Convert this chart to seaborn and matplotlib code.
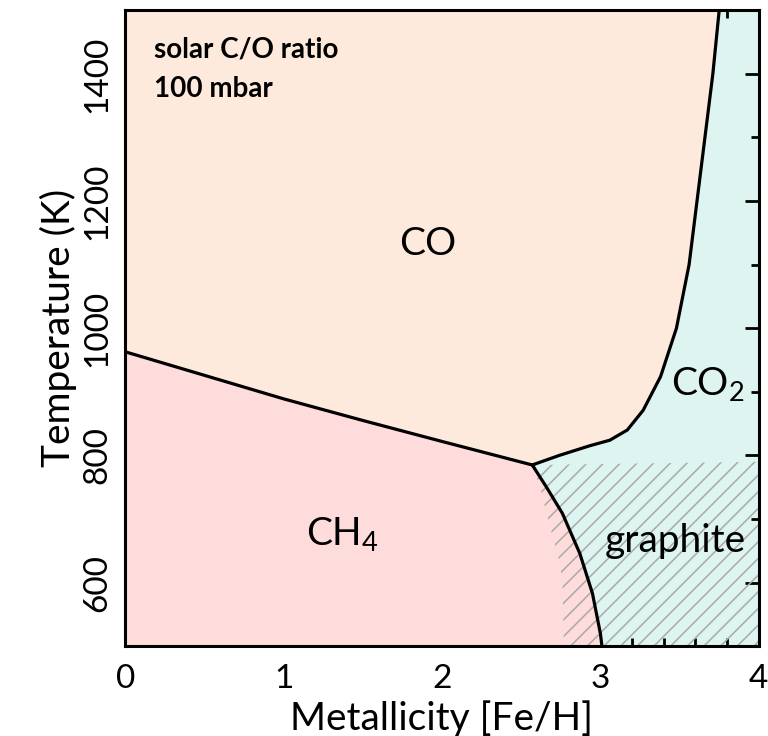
"""Chemical-equilibrium phase diagram: dominant carbon carrier vs metallicity and T."""
import matplotlib
matplotlib.use("Agg")
import matplotlib.pyplot as plt
import pandas as pd
import seaborn as sns
from matplotlib.ticker import MultipleLocator

# boundary CO / CH4  (metallicity, temperature K)
co_ch4_feh = [0.0, 0.5, 1.0, 1.5, 2.0, 2.57]
co_ch4_t = [963, 926, 889, 855, 822, 785]

# boundary CO / CO2
co_co2_feh = [2.57, 2.74, 2.93, 3.06, 3.17, 3.27, 3.38, 3.48, 3.56, 3.61, 3.66, 3.71, 3.75]
co_co2_t = [785, 800, 815, 824, 840, 871, 924, 1000, 1100, 1200, 1300, 1400, 1500]

# boundary CH4 / graphite
ch4_gr_feh = [2.57, 2.66, 2.76, 2.87, 2.95, 3.00, 3.01]
ch4_gr_t = [785, 750, 709, 646, 583, 520, 500]

# left edge of the graphite-stability (hatched) zone
gr_edge_feh = [2.57, 2.62, 2.66, 2.70, 2.74, 2.76, 2.77]
gr_edge_t = [785, 750, 709, 671, 635, 604, 500]
gr_top_t = 790

regions = ["CO", "CH$_4$", "CO$_2$", "graphite"]
region_feh = [1.91, 1.375, 3.68, 3.47]
region_t = [1115, 659, 895, 648]

c_co = "#fdeadc"
c_ch4 = "#fddcdb"
c_co2 = "#ddf4f0"

sns.set_theme(style="ticks")
plt.rcParams["font.family"] = ["Lato", "DejaVu Sans"]
plt.rcParams["mathtext.fontset"] = "custom"
plt.rcParams["mathtext.rm"] = "Lato"
plt.rcParams["mathtext.it"] = "Lato:italic"
plt.rcParams["text.color"] = "black"
plt.rcParams["axes.labelcolor"] = "black"
plt.rcParams["hatch.linewidth"] = 1.1

fig = plt.figure(figsize=(7.68, 7.36), dpi=100)
ax = fig.add_axes([0.163, 0.122, 0.825, 0.864])
ax.set_facecolor(c_co2)

xmin, xmax, tmin, tmax = 0, 4, 500, 1500

# CH4 field
ch4_x = [xmin] + co_ch4_feh + ch4_gr_feh[1:] + [xmin]
ch4_y = [tmin] + co_ch4_t + ch4_gr_t[1:] + [tmin]
ax.fill(ch4_x, ch4_y, color=c_ch4, lw=0, zorder=1)

# graphite hatch
gx = gr_edge_feh + [xmax, xmax]
gy = gr_edge_t + [tmin, gr_top_t]
ax.fill(gx, gy, facecolor="none", edgecolor="#a9a9a9", hatch="//", lw=0, zorder=2)

# CO field
co_x = [xmin] + co_ch4_feh + co_co2_feh[1:] + [xmin]
co_y = [tmax] + co_ch4_t + co_co2_t[1:] + [tmax]
ax.fill(co_x, co_y, color=c_co, lw=0, zorder=3)

lines = [
    pd.DataFrame({"feh": co_ch4_feh, "T": co_ch4_t}),
    pd.DataFrame({"feh": co_co2_feh, "T": co_co2_t}),
    pd.DataFrame({"feh": ch4_gr_feh, "T": ch4_gr_t}),
]
for df in lines:
    sns.lineplot(data=df, x="feh", y="T", sort=False, color="black",
                 lw=2.3, ax=ax, zorder=4)

for name, xx, tt in zip(regions, region_feh, region_t):
    ax.text(xx, tt, name, fontsize=28, ha="center", va="baseline", zorder=5)

ax.text(0.18, 1426, "solar C/O ratio", fontsize=20, fontweight="bold",
        ha="left", va="baseline", zorder=5)
ax.text(0.18, 1363, "100 mbar", fontsize=20, fontweight="bold",
        ha="left", va="baseline", zorder=5)

ax.set_xlim(xmin, xmax)
ax.set_ylim(tmin, tmax)
ax.xaxis.set_major_locator(MultipleLocator(1))
ax.xaxis.set_minor_locator(MultipleLocator(0.2))
ax.yaxis.set_major_locator(MultipleLocator(200))
ax.yaxis.set_minor_locator(MultipleLocator(100))
ax.set_yticks([600, 800, 1000, 1200, 1400])
ax.tick_params(which="both", direction="in", top=True, right=True,
               color="black", width=2, labelsize=24, labelcolor="black")
ax.tick_params(which="major", length=10, pad=9)
ax.tick_params(axis="x", which="major", pad=13)
ax.tick_params(which="minor", length=6)
for lab in ax.get_yticklabels():
    lab.set_rotation(90)
    lab.set_va("center")
for s in ax.spines.values():
    s.set_linewidth(2.2)
    s.set_color("black")
    s.set_zorder(6)

ax.set_xlabel("Metallicity [Fe/H]", fontsize=28, labelpad=4)
ax.set_ylabel("Temperature (K)", fontsize=28, labelpad=4)

fig.savefig("out.png", dpi=100)
